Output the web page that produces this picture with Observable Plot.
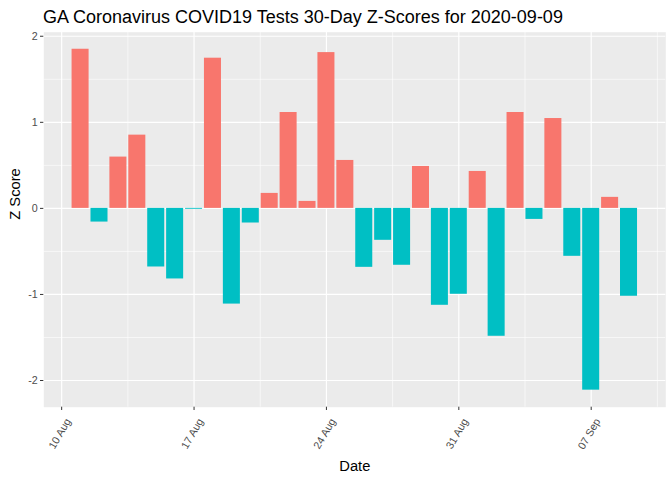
<!DOCTYPE html>
<html><head><meta charset="utf-8">
<script src="https://cdn.jsdelivr.net/npm/d3@7"></script>
<script src="https://cdn.jsdelivr.net/npm/@observablehq/plot@0.6"></script>
<style>
body{margin:0;background:#fff;font-family:"Liberation Sans",Arial,sans-serif;}
#title{height:28px;box-sizing:border-box;padding-left:43px;padding-top:7.5px;font-size:18px;line-height:18px;color:#000;white-space:nowrap;}
#chart svg{display:block;}
</style></head><body>
<div id="title">GA Coronavirus COVID19 Tests 30-Day Z-Scores for 2020-09-09</div>
<div id="chart"></div>
<script>
const dates = ["2020-08-11","2020-08-12","2020-08-13","2020-08-14","2020-08-15","2020-08-16","2020-08-17","2020-08-18","2020-08-19","2020-08-20",
  "2020-08-21","2020-08-22","2020-08-23","2020-08-24","2020-08-25","2020-08-26","2020-08-27","2020-08-28","2020-08-29","2020-08-30",
  "2020-08-31","2020-09-01","2020-09-02","2020-09-03","2020-09-04","2020-09-05","2020-09-06","2020-09-07","2020-09-08","2020-09-09"];
const zScores = [1.849,-0.159,0.596,0.851,-0.681,-0.820,-0.010,1.745,-1.112,-0.170,
  0.174,1.114,0.081,1.810,0.557,-0.685,-0.371,-0.661,0.487,-1.126,
  -0.998,0.429,-1.486,1.114,-0.128,1.044,-0.557,-2.112,0.128,-1.021];
const tickDates = ["2020-08-10","2020-08-17","2020-08-24","2020-08-31","2020-09-07"];
const tickLabels = ["10 Aug","17 Aug","24 Aug","31 Aug","07 Sep"];
const yTicks = [-2,-1,0,1,2];
const yMinor = [-1.5,-0.5,0.5,1.5];
const fillColors = ["#F8766D","#00BFC4"];

const DAY = 864e5;
const half = 0.45 * DAY;
const data = dates.map((d, i) => ({date: new Date(d), z: zScores[i]}));
const tickObjs = tickDates.map(d => new Date(d));
const xMinor = tickObjs.map(d => new Date(+d + 3.5 * DAY));
const xlo = d3.min(data, d => +d.date) - half, xhi = d3.max(data, d => +d.date) + half;
const xpad = 0.05 * (xhi - xlo);
const ylo = Math.min(0, d3.min(zScores)), yhi = Math.max(0, d3.max(zScores));
const ypad = 0.05 * (yhi - ylo);
const fmtX = d => tickLabels[tickObjs.findIndex(t => +t === +d)];

const chart = Plot.plot({
  width: 672, height: 452,
  marginTop: 3.7, marginBottom: 73.3, marginLeft: 43.3, marginRight: 6.7,
  style: {fontFamily: "'Liberation Sans', Arial, sans-serif", background: "white"},
  x: {type: "utc", domain: [new Date(xlo - xpad), new Date(xhi + xpad)]},
  y: {domain: [ylo - ypad, yhi + ypad]},
  color: {domain: ["pos", "neg"], range: fillColors},
  marks: [
    Plot.frame({fill: "#EBEBEB", stroke: "none"}),
    Plot.gridY(yMinor, {stroke: "white", strokeOpacity: 1, strokeWidth: 0.6}),
    Plot.gridX(xMinor, {stroke: "white", strokeOpacity: 1, strokeWidth: 0.6}),
    Plot.gridY(yTicks, {stroke: "white", strokeOpacity: 1, strokeWidth: 1.2}),
    Plot.gridX(tickObjs, {stroke: "white", strokeOpacity: 1, strokeWidth: 1.2}),
    Plot.rectY(data, {
      x1: d => new Date(+d.date - half),
      x2: d => new Date(+d.date + half),
      y: "z",
      fill: d => d.z < 0 ? "neg" : "pos"
    }),
    Plot.axisY(yTicks, {tickSize: 3.3, tickPadding: 2.7, stroke: "#333333", fill: "#4D4D4D", fontSize: 10.7, tickFormat: d => String(d), label: null}),
    Plot.axisX(tickObjs, {tickSize: 3.3, stroke: "#333333", fill: "none", label: null}),
    Plot.axisX(tickObjs, {tickSize: 0, tickPadding: 6, tickRotate: -60, textAnchor: "end", lineAnchor: "top",
      stroke: "none", fill: "#4D4D4D", fontSize: 10.7, tickFormat: fmtX, label: null, dx: 3, dy: 4}),
    Plot.text(["Date"], {text: d => d, frameAnchor: "bottom", lineAnchor: "bottom", dy: 63.3, fontSize: 14.7, fill: "black"}),
    Plot.text(["Z Score"], {text: d => d, frameAnchor: "left", lineAnchor: "bottom", rotate: -90, dx: -23.6, fontSize: 14.7, fill: "black"})
  ]
});
document.getElementById("chart").appendChild(chart);
</script>
</body></html>
